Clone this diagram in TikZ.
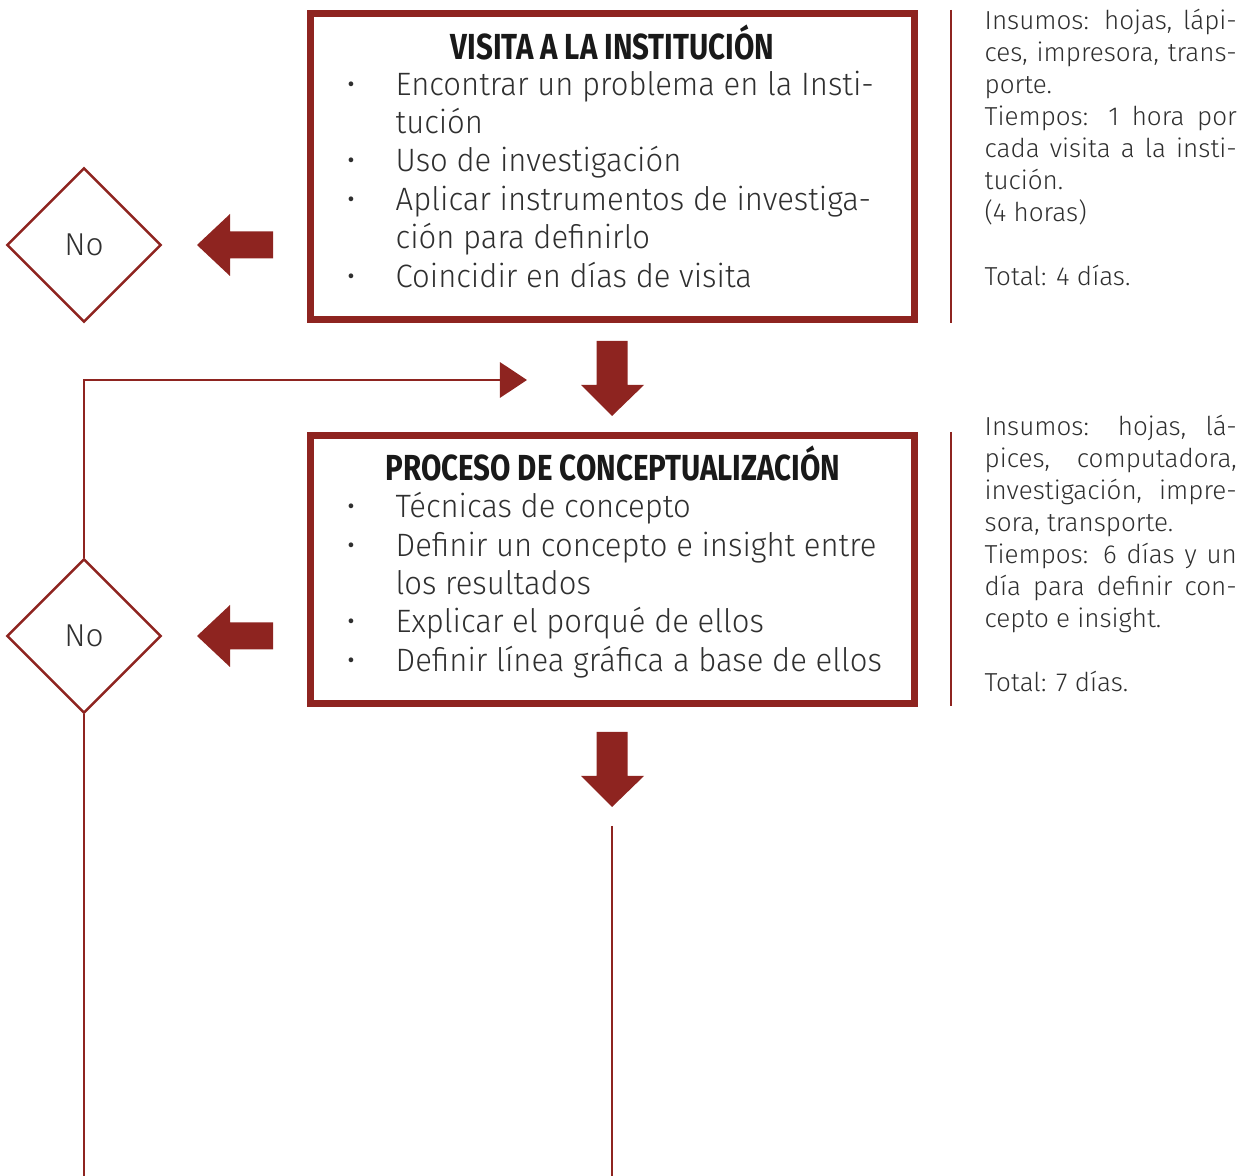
\documentclass[tikz,border=0pt]{standalone}
\usepackage{fontspec}
\setmainfont{Fira Sans Light}
\newfontfamily\itemfont{Fira Sans Light}[FakeStretch=0.96]
\newfontfamily\titulofont{Fira Sans Bold}[FakeStretch=0.815]
\usetikzlibrary{shapes.geometric,arrows.meta,positioning}
\definecolor{vino}{HTML}{8E2420}
\definecolor{gris}{HTML}{2F2F2F}
\newcommand{\lin}[1]{\makebox[2.52cm][s]{#1}}
\tikzset{
  caja/.style={draw=vino, line width=2pt, inner sep=0pt},
  titulo/.style={anchor=base, inner sep=0pt, text=black!90, font=\titulofont\fontsize{10.3}{12}\selectfont},
  item/.style={anchor=base west, align=left, text=gris, inner sep=0pt, font=\itemfont\fontsize{9.2}{10.9}\selectfont},
  punto/.style={anchor=base, text=gris, inner sep=0pt, font=\itemfont\fontsize{9.2}{10.9}\selectfont},
  nota/.style={anchor=base west, align=left, text=gris, inner sep=0pt, font=\fontsize{7.4}{9.1}\selectfont},
  decision/.style={diamond, draw=vino, line width=0.7pt, minimum width=1.54cm, minimum height=1.54cm, inner sep=0pt, text=gris, font=\fontsize{9}{10}\selectfont},
  linea/.style={draw=vino, line width=0.85pt},
  bajar/.pic={\fill[vino] (-15.5,0) -- (15.5,0) -- (15.5,44) -- (32,44) -- (0,75) -- (-31,44) -- (-15.5,44) -- cycle;},
  izquierda/.pic={\fill[vino] (0,-13.5) -- (0,13.5) -- (-43,13.5) -- (-43,31) -- (-76,0) -- (-43,-31) -- (-43,-13.5) -- cycle;}
}

\begin{document}
\begin{tikzpicture}[x=0.01cm, y=-0.01cm]
    \useasboundingbox (0,0) rectangle (1247,1176);

    % first step
    \node[caja, minimum width=6.04cm, minimum height=3.06cm] (visita) at (612.5,166.5) {};
    \node[titulo] (tvisita) at (612.5,60) {VISITA A LA INSTITUCIÓN};
    \foreach \y in {96,172,211,288}
        \node[punto] (pv\y) at (351,\y) {•};
    % multi-line nodes sit on their last line
    \node[item] (v1) at (395,134) {Encontrar un problema en la Insti-\\tución};
    \node[item] (v2) at (395,172) {Uso de investigación};
    \node[item] (v3) at (395,249) {Aplicar instrumentos de investiga-\\ción para definirlo};
    \node[item] (v4) at (395,288) {Coincidir en días de visita};

    \draw[linea] (951,10) -- (951,323);
    \node[nota] (nvisita) at (984,286) {\lin{Insumos: hojas, lápi-}\\\lin{ces, impresora, trans-}\\porte.\\\lin{Tiempos: 1 hora por}\\\lin{cada visita a la insti-}\\tución.\\(4 horas)\\[9.1pt]Total: 4 días.};

    \node[decision] (d1) at (84,245) {No};
    \pic (fi1) at (273,245) {izquierda};
    \pic (fb1) at (612,341) {bajar};

    % second step
    \node[caja, minimum width=6.04cm, minimum height=2.68cm] (concepto) at (612.5,569.5) {};
    \node[titulo] (tconcepto) at (613,481) {PROCESO DE CONCEPTUALIZACIÓN};
    \foreach \y in {518,557,633,672}
        \node[punto] (pc\y) at (351,\y) {•};
    \node[item] (c1) at (395,518) {Técnicas de concepto};
    \node[item] (c2) at (395,595) {Definir un concepto e insight entre\\los resultados};
    \node[item] (c3) at (395,633) {Explicar el porqué de ellos};
    \node[item] (c4) at (395,672) {Definir línea gráfica a base de ellos};

    \draw[linea] (951,432) -- (951,706);
    \node[nota] (nconcepto) at (984,692) {\lin{Insumos: hojas, lá-}\\\lin{pices, computadora,}\\\lin{investigación, impre-}\\sora, transporte.\\\lin{Tiempos: 6 días y un}\\\lin{día para definir con-}\\cepto e insight.\\[9.1pt]Total: 7 días.};

    \node[decision] (d2) at (84,636) {No};
    \pic (fi2) at (273,636) {izquierda};
    \pic (fb2) at (612,732) {bajar};

    % connectors
    \coordinate (regreso) at (527,380);
    \coordinate (fin1) at (84,1180);
    \coordinate (sigue) at (612,826);
    \coordinate (fin2) at (612,1180);
    \draw[linea, -{Triangle[length=7.7pt, width=10pt]}] (d2.north) |- (regreso);
    \draw[linea] (d2.south) -- (fin1);
    \draw[linea] (sigue) -- (fin2);
\end{tikzpicture}
\end{document}
